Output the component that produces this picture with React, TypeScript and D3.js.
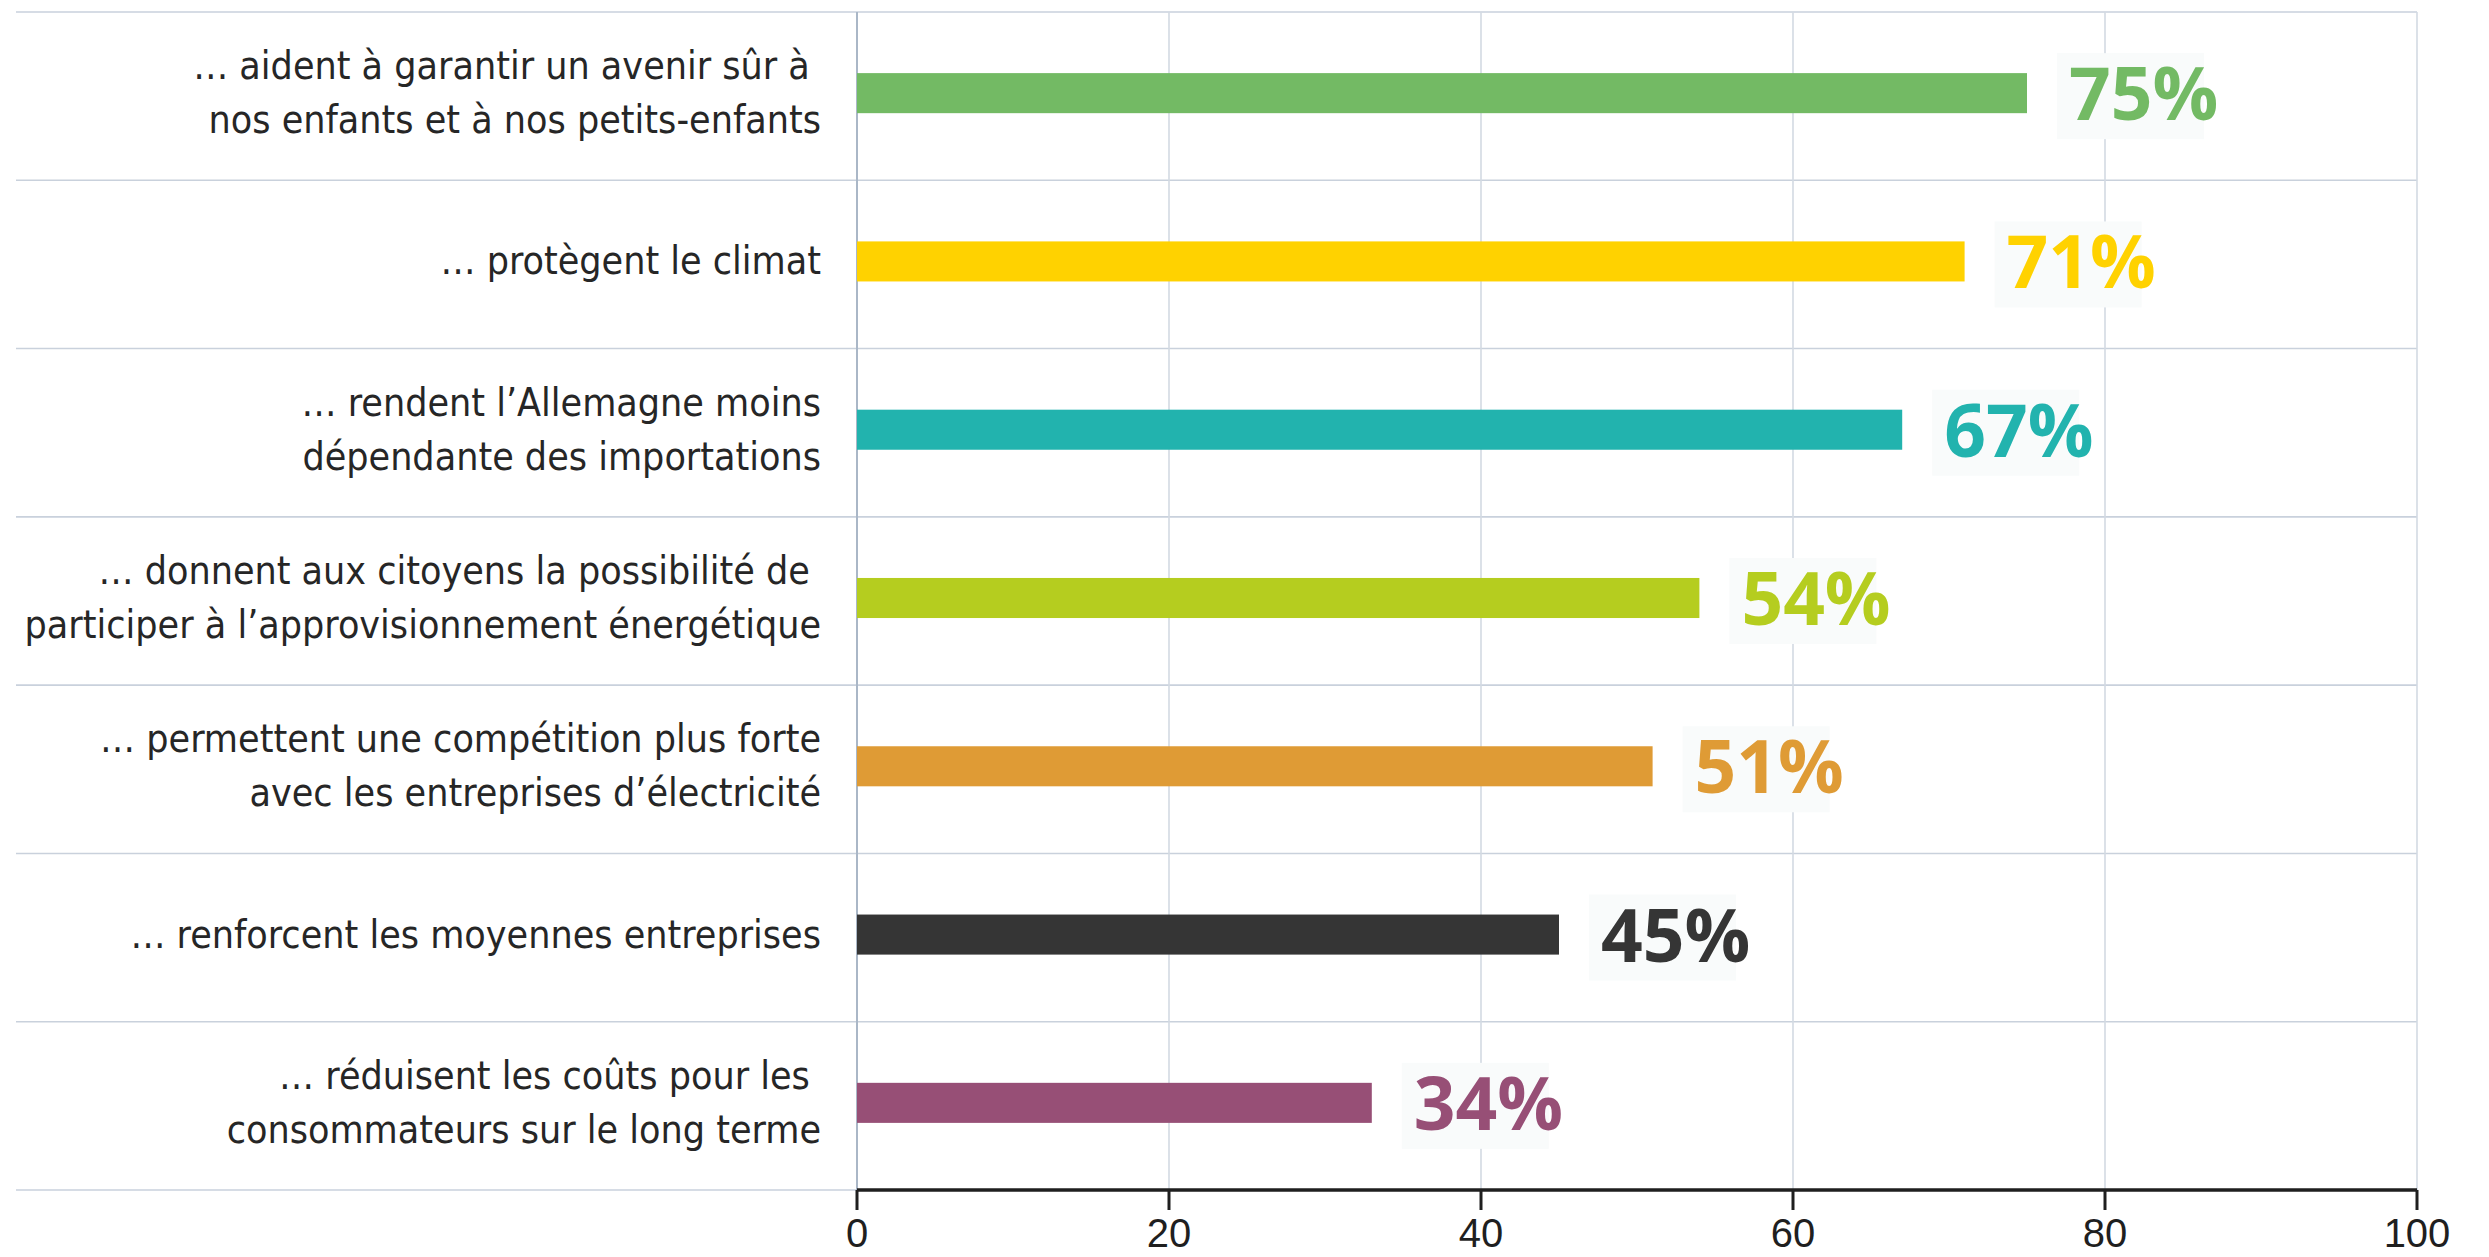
import React from "react";
import * as d3 from "d3";

const categories: string[][] = [
  ["… aident à garantir un avenir sûr à ", "nos enfants et à nos petits-enfants"],
  ["… protègent le climat"],
  ["… rendent l’Allemagne moins", "dépendante des importations"],
  ["… donnent aux citoyens la possibilité de ", "participer à l’approvisionnement énergétique"],
  ["… permettent une compétition plus forte", "avec les entreprises d’électricité"],
  ["… renforcent les moyennes entreprises"],
  ["… réduisent les coûts pour les ", "consommateurs sur le long terme"],
];
const values: number[] = [75, 71, 67, 54, 51, 45, 33];
const valueLabels: string[] = ["75%", "71%", "67%", "54%", "51%", "45%", "34%"];
const colors: string[] = ["#73ba64", "#ffd200", "#22b3ae", "#b5cd1f", "#df9b35", "#353535", "#974f76"];
const xTicks: number[] = [0, 20, 40, 60, 80, 100];

const W = 2489;
const H = 1257;
const TOP = 12;
const AXIS_Y = 1190;
const X0 = 857;
const X1 = 2417;
const GRID_LEFT = 16;
const LABEL_RIGHT = 821;

export default function App() {
  const idx = categories.map((_, i) => i);
  const x = d3.scaleLinear().domain([0, 100]).range([X0, X1]);
  const rows = d3.scaleBand<number>().domain(idx).range([TOP, AXIS_Y]).padding(0);
  const bars = d3
    .scaleBand<number>()
    .domain(idx)
    .range([TOP - 3, AXIS_Y - 3])
    .paddingInner(0.762)
    .paddingOuter(0.381);

  const labelFont = "'Liberation Sans Narrow', 'DejaVu Sans Condensed', 'Liberation Sans', sans-serif";
  const gridColor = "#c9d1dc";

  return (
    <div style={{ position: "absolute", left: 0, top: 0 }}>
      <svg width={W} height={H} style={{ display: "block", background: "#fff" }}>
        {/* horizontal gridlines */}
        {idx.map((i) => (
          <line
            key={"h" + i}
            x1={GRID_LEFT}
            x2={X1}
            y1={rows(i)!}
            y2={rows(i)!}
            stroke={gridColor}
            strokeWidth={1.6}
          />
        ))}
        <line x1={GRID_LEFT} x2={X0} y1={AXIS_Y} y2={AXIS_Y} stroke={gridColor} strokeWidth={1.6} />
        {/* vertical gridlines */}
        {xTicks.map((t) => (
          <line
            key={"v" + t}
            x1={x(t)}
            x2={x(t)}
            y1={TOP}
            y2={AXIS_Y}
            stroke={t === 0 ? "#aab7c7" : "#d3dae3"}
            strokeWidth={t === 0 ? 2 : 1.6}
          />
        ))}
        {/* category labels */}
        {categories.map((lines, i) => {
          const c = rows(i)! + rows.bandwidth() / 2;
          const lh = 54;
          const first = c + 10 - ((lines.length - 1) * lh) / 2;
          return (
            <text
              key={"c" + i}
              textAnchor="end"
              fontFamily={labelFont}
              fontSize={39}
              fill="#262626"
              style={{ whiteSpace: "pre" }}
            >
              {lines.map((l, j) => (
                <tspan key={j} x={LABEL_RIGHT} y={first + j * lh}>
                  {l}
                </tspan>
              ))}
            </text>
          );
        })}
        {/* bars */}
        {values.map((v, i) => (
          <rect
            key={"b" + i}
            x={x(0)}
            y={bars(i)!}
            width={x(v) - x(0)}
            height={bars.bandwidth()}
            fill={colors[i]}
          />
        ))}
        {/* value labels */}
        {values.map((v, i) => {
          const c = bars(i)! + bars.bandwidth() / 2;
          const tx = x(v) + 42;
          return (
            <g key={"l" + i}>
              <rect x={tx - 12} y={c - 40} width={147} height={86} fill="#f9fbfb" />
              <text
                x={tx}
                y={c + 27}
                fontFamily="'Open Sans', 'Liberation Sans', sans-serif"
                fontWeight="bold"
                fontSize={73}
                fill={colors[i]}
              >
                {valueLabels[i]}
              </text>
            </g>
          );
        })}
        {/* x axis */}
        <line x1={X0} x2={X1} y1={AXIS_Y} y2={AXIS_Y} stroke="#1f1f1f" strokeWidth={3.5} />
        {xTicks.map((t) => (
          <g key={"t" + t}>
            <line x1={x(t)} x2={x(t)} y1={AXIS_Y} y2={AXIS_Y + 20} stroke="#1f1f1f" strokeWidth={3} />
            <text
              x={x(t)}
              y={1247}
              textAnchor="middle"
              fontFamily="'Liberation Sans Narrow', 'Liberation Sans', sans-serif"
              fontSize={40}
              fill="#1f1f1f"
            >
              {t}
            </text>
          </g>
        ))}
      </svg>
    </div>
  );
}
